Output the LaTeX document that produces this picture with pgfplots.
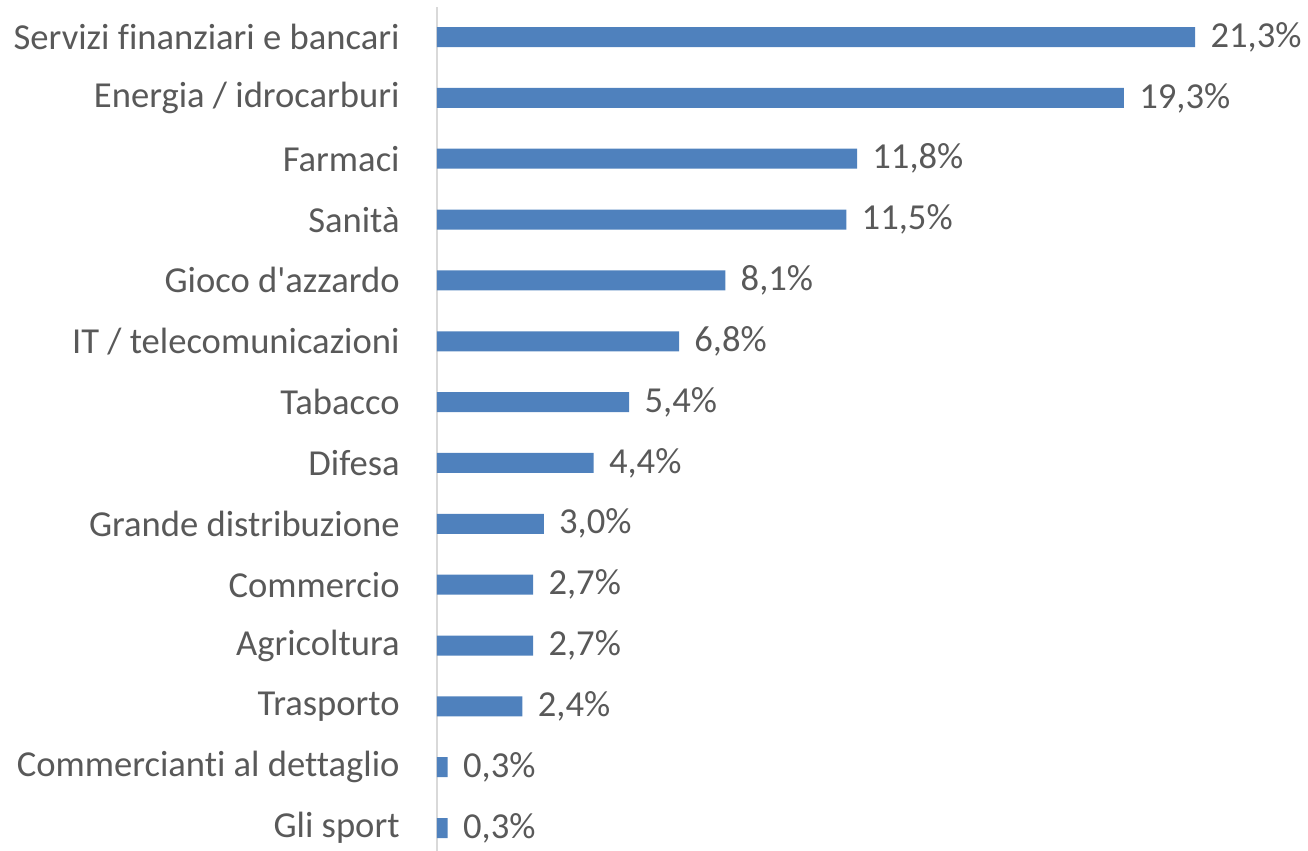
\documentclass[border=0pt]{standalone}
\usepackage{pgfplots}
\pgfplotsset{compat=1.18}
\usepackage{fontspec}
\setmainfont{Carlito}[Ligatures={NoCommon}]
\definecolor{barblue}{RGB}{79,129,189}
\definecolor{txt}{RGB}{89,89,89}
\definecolor{axgray}{RGB}{217,217,217}
\begin{document}
\begin{tikzpicture}
\begin{axis}[
  at={(0,0)}, anchor=south west,
  width=435.5bp, height=422.2bp, scale only axis,
  xbar, bar width=10bp,
  xmin=0, xmax=24.47,
  ymin=-0.377, ymax=13.5,
  axis x line=none,
  axis y line*=left,
  y axis line style={draw=axgray, line width=1bp},
  xtick=\empty,
  ytick={0,...,13},
  yticklabels={Gli sport, Commercianti al dettaglio, Trasporto, Agricoltura, Commercio, Grande distribuzione, Difesa, Tabacco, IT / telecomunicazioni, Gioco d\textquotesingle{}azzardo, Sanità, Farmaci, Energia / idrocarburi, Servizi finanziari e bancari},
  major tick length=0pt,
  yticklabel style={font=\fontsize{18.3bp}{20bp}\selectfont, text=txt, inner sep=0pt, anchor=east, xshift=-18.5bp},
  clip=false,
  point meta=x,
  nodes near coords={\pgfmathprintnumber[fixed,fixed zerofill,precision=1,use comma,assume math mode=true]{\pgfplotspointmeta}\%},
  nodes near coords style={font=\fontsize{18.3bp}{20bp}\selectfont, text=txt, anchor=west, inner sep=0pt, xshift=7.5bp},
]
\addplot[fill=barblue, draw=none] coordinates {
  (0.3,0) (0.3,1) (2.4,2) (2.7,3) (2.7,4) (3.0,5) (4.4,6) (5.4,7)
  (6.8,8) (8.1,9) (11.5,10) (11.8,11) (19.3,12) (21.3,13)
};
\end{axis}
\pgfresetboundingbox
\useasboundingbox (-218.5bp,0) rectangle (435.5bp,425.5bp);
\end{tikzpicture}
\end{document}
